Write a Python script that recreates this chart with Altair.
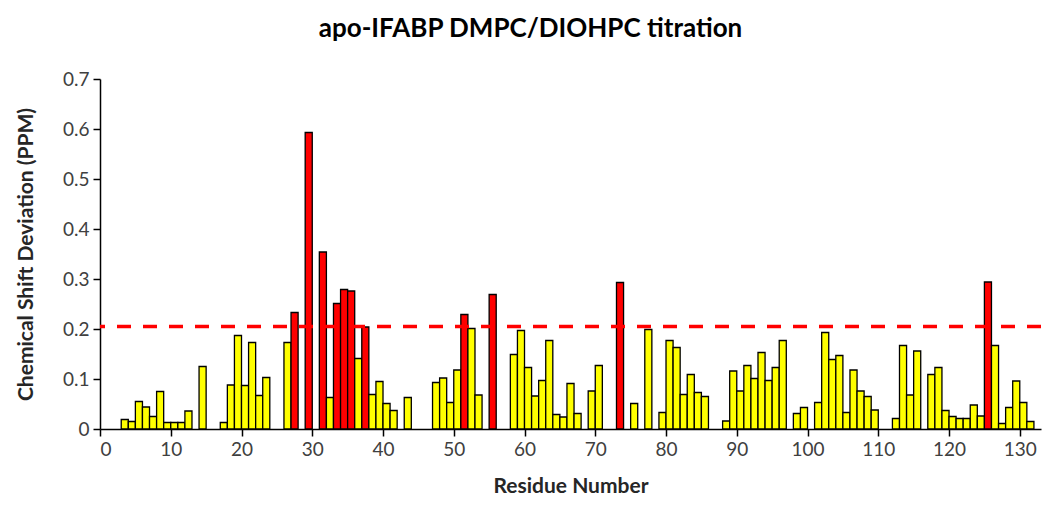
import altair as alt
import pandas as pd

residues = [3, 4, 5, 6, 7, 8, 9, 10, 11, 12,
            14, 17, 18, 19, 20, 21, 22, 23, 26, 27,
            29, 31, 32, 33, 34, 35, 36, 37, 38, 39,
            40, 41, 43, 47, 48, 49, 50, 51, 52, 53,
            55, 58, 59, 60, 61, 62, 63, 64, 65, 66,
            67, 69, 70, 73, 75, 77, 79, 80, 81, 82,
            83, 84, 85, 88, 89, 90, 91, 92, 93, 94,
            95, 96, 98, 99, 101, 102, 103, 104, 105, 106,
            107, 108, 109, 112, 113, 114, 115, 117, 118, 119,
            120, 121, 122, 123, 124, 125, 126, 127, 128, 129,
            130, 131]
shifts = [0.019, 0.015, 0.055, 0.044, 0.025, 0.075, 0.013, 0.013, 0.013, 0.036,
          0.125, 0.013, 0.088, 0.187, 0.087, 0.173, 0.067, 0.103, 0.173, 0.233,
          0.593, 0.354, 0.063, 0.251, 0.279, 0.276, 0.141, 0.204, 0.069, 0.095,
          0.051, 0.037, 0.063, 0.093, 0.102, 0.053, 0.118, 0.229, 0.201, 0.068,
          0.269, 0.149, 0.197, 0.123, 0.066, 0.097, 0.177, 0.029, 0.024, 0.091,
          0.031, 0.076, 0.127, 0.293, 0.051, 0.199, 0.033, 0.177, 0.163, 0.069,
          0.109, 0.073, 0.065, 0.016, 0.116, 0.076, 0.127, 0.101, 0.153, 0.097,
          0.123, 0.177, 0.031, 0.043, 0.053, 0.193, 0.139, 0.147, 0.033, 0.118,
          0.076, 0.065, 0.038, 0.021, 0.167, 0.068, 0.156, 0.109, 0.123, 0.037,
          0.025, 0.021, 0.021, 0.048, 0.026, 0.294, 0.167, 0.011, 0.043, 0.096,
          0.053, 0.015]
highlighted = [27, 29, 31, 33, 34, 35, 37, 51, 55, 73, 125]
threshold = [0.205]
x_ticks = list(range(0, 131, 10))
y_ticks = [0, 0.1, 0.2, 0.3, 0.4, 0.5, 0.6, 0.7]

df = pd.DataFrame({
    "residue": residues,
    "shift": shifts,
    "group": ["high" if r in highlighted else "low" for r in residues],
})
df_thr = pd.DataFrame({"thr": threshold})

FONT = "Lato"

x_scale = alt.Scale(domain=[0, 133], nice=False, zero=False)
y_scale = alt.Scale(domain=[0, 0.7], nice=False)

bars = alt.Chart(df).transform_calculate(
    end="datum.residue + 1", base="0"
).mark_bar(stroke="black", strokeWidth=1.3).encode(
    x=alt.X("residue:Q", scale=x_scale,
            axis=alt.Axis(values=x_ticks, format="d", title="Residue Number",
                          titlePadding=16)),
    x2="end:Q",
    y=alt.Y("shift:Q", scale=y_scale,
            axis=alt.Axis(values=y_ticks, format=".1~f",
                          title="Chemical Shift Deviation (PPM)",
                          titlePadding=26)),
    y2="base:Q",
    color=alt.Color("group:N",
                    scale=alt.Scale(domain=["high", "low"], range=["#FF0000", "#FFFF00"]),
                    legend=None),
)

rule = alt.Chart(df_thr).mark_rule(
    color="#FF0000", strokeWidth=3.5, strokeDash=[14, 12]
).encode(y=alt.Y("thr:Q", scale=y_scale))

chart = alt.layer(bars, rule).properties(
    width=941,
    height=350,
    autosize=alt.AutoSizeParams(type="none"),
    padding={"left": 100, "top": 79, "right": 7, "bottom": 83},
    background="white",
    title=alt.TitleParams(
        "apo-IFABP DMPC/DIOHPC titration",
        font=FONT, fontSize=26, fontWeight="bold", color="#000000",
        anchor="middle", offset=28, dx=-40,
    ),
).configure_view(stroke=None).configure_axis(
    labelFont=FONT, titleFont=FONT,
    labelFontSize=19, titleFontSize=21, titleFontWeight="bold",
    labelColor="#404040", titleColor="#262626",
    domainColor="black", domainWidth=1.5,
    tickColor="black", tickWidth=1.5, tickSize=7,
    grid=False, labelPadding=4,
)

chart.save("out.html", embed_options={"renderer": "svg", "actions": False})
